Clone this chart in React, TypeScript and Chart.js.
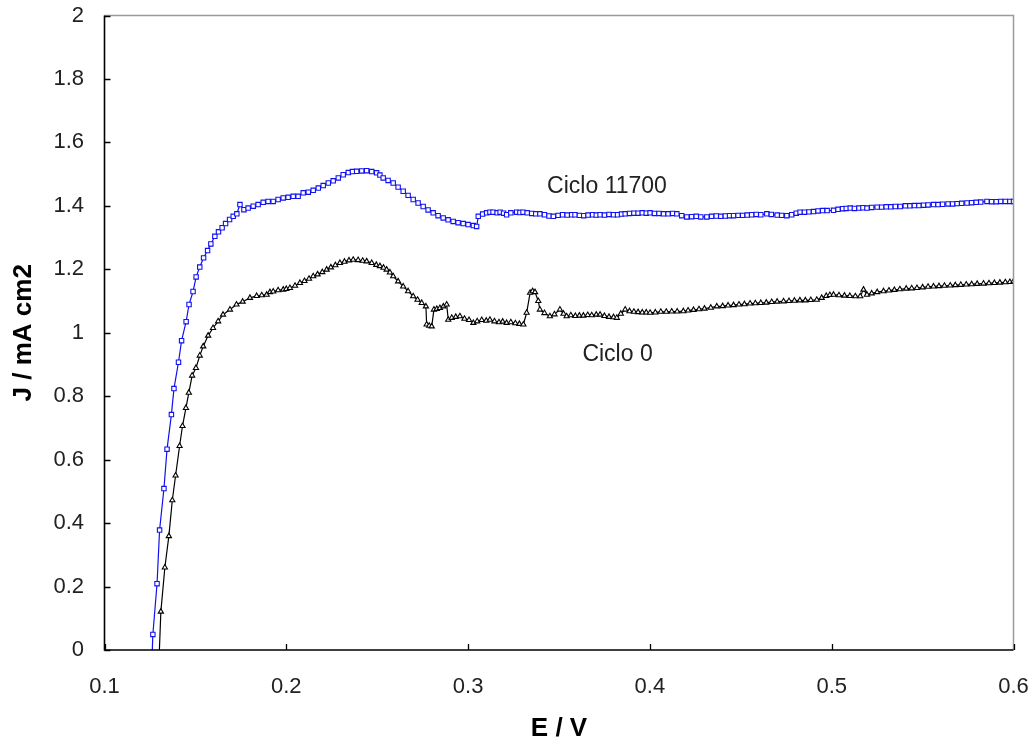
import React, { useEffect, useRef } from "react";
import { Chart, registerables } from "chart.js";

Chart.register(...registerables);

const FONT = '"Liberation Sans", Arial, Helvetica, sans-serif';

const xTicks = [0.1, 0.2, 0.3, 0.4, 0.5, 0.6];
const yTicks = [0, 0.2, 0.4, 0.6, 0.8, 1, 1.2, 1.4, 1.6, 1.8, 2];

const xTitle = "E / V";
const yTitle = "J / mA cm2";

// Ciclo 11700 (blue, squares)
const blueE = [
  0.1261, 0.1266, 0.1289, 0.1303, 0.1327, 0.1344, 0.1368, 0.1382, 0.1407, 0.1424, 0.1449, 0.1465,
  0.1487, 0.1504, 0.1524, 0.1545, 0.1567, 0.1585, 0.1607, 0.1627, 0.1647, 0.1666, 0.1688, 0.1708,
  0.1728, 0.1745, 0.1767, 0.179, 0.1818, 0.1845, 0.1873, 0.19, 0.1928, 0.1955, 0.1983, 0.201,
  0.2038, 0.2065, 0.2093, 0.2121, 0.2148, 0.2176, 0.2203, 0.2231, 0.2258, 0.2286, 0.2313, 0.2341,
  0.2364, 0.2387, 0.2415, 0.2442, 0.247, 0.2497, 0.2515, 0.2533, 0.256, 0.2588, 0.2615, 0.2643,
  0.267, 0.2698, 0.2725, 0.2753, 0.278, 0.2808, 0.2835, 0.2863, 0.289, 0.2918, 0.2945, 0.2973,
  0.3, 0.3029, 0.3047, 0.3056, 0.308, 0.3102, 0.312, 0.3137, 0.316, 0.3176, 0.3195, 0.3212,
  0.3235, 0.3267, 0.3285, 0.3302, 0.3325, 0.335, 0.3372, 0.3395, 0.342, 0.3445, 0.3469, 0.3495,
  0.352, 0.3545, 0.357, 0.3588, 0.3612, 0.3636, 0.366, 0.3685, 0.3705, 0.3726, 0.375, 0.3775,
  0.38, 0.3822, 0.3844, 0.3864, 0.3888, 0.3912, 0.3935, 0.3958, 0.398, 0.4001, 0.4025, 0.405,
  0.4075, 0.41, 0.4125, 0.4148, 0.4175, 0.4203, 0.423, 0.4255, 0.428, 0.4313, 0.434, 0.4365,
  0.439, 0.4415, 0.4438, 0.446, 0.4485, 0.451, 0.4535, 0.456, 0.4585, 0.461, 0.4643, 0.4668,
  0.47, 0.4725, 0.4753, 0.478, 0.4805, 0.4826, 0.485, 0.4875, 0.49, 0.4925, 0.495, 0.4975,
  0.501, 0.5035, 0.506, 0.508, 0.5102, 0.5125, 0.515, 0.5172, 0.5194, 0.522, 0.525, 0.5275,
  0.53, 0.5325, 0.535, 0.5377, 0.5405, 0.543, 0.5455, 0.548, 0.5505, 0.553, 0.556, 0.5585,
  0.561, 0.564, 0.5665, 0.569, 0.5715, 0.5744, 0.577, 0.5795, 0.582, 0.5854, 0.588, 0.5905,
  0.593, 0.5955, 0.598, 0.6,
];
const blueJ = [
  -0.03, 0.049, 0.209, 0.378, 0.509, 0.633, 0.742, 0.824, 0.907, 0.975, 1.035, 1.089,
  1.13, 1.176, 1.207, 1.236, 1.259, 1.28, 1.304, 1.318, 1.331, 1.344, 1.357, 1.367,
  1.375, 1.404, 1.388, 1.393, 1.399, 1.404, 1.411, 1.414, 1.414, 1.42, 1.425, 1.427,
  1.43, 1.43, 1.441, 1.443, 1.449, 1.456, 1.464, 1.472, 1.479, 1.488, 1.498, 1.505,
  1.508, 1.509, 1.51, 1.511, 1.508, 1.504, 1.497, 1.488, 1.48, 1.472, 1.459, 1.446,
  1.433, 1.42, 1.409, 1.398, 1.387, 1.378, 1.369, 1.362, 1.356, 1.351, 1.347, 1.344,
  1.341, 1.338, 1.335, 1.367, 1.374, 1.378, 1.38, 1.38, 1.378, 1.38, 1.377, 1.372,
  1.378, 1.38, 1.379, 1.38, 1.378, 1.376, 1.375, 1.375, 1.372, 1.368, 1.367, 1.37,
  1.372, 1.371, 1.372, 1.372, 1.37, 1.369, 1.371, 1.372, 1.371, 1.372, 1.371, 1.373,
  1.372, 1.372, 1.374, 1.375, 1.376, 1.377, 1.377, 1.378, 1.377, 1.378, 1.376, 1.376,
  1.375, 1.375, 1.376, 1.375, 1.369, 1.365, 1.366, 1.367, 1.365, 1.365, 1.367, 1.368,
  1.367, 1.368, 1.369, 1.369, 1.37, 1.37, 1.371, 1.372, 1.373, 1.372, 1.375, 1.373,
  1.371, 1.37, 1.369, 1.372, 1.377, 1.38, 1.38, 1.381, 1.382, 1.384, 1.385, 1.385,
  1.386, 1.389, 1.391, 1.392, 1.393, 1.392, 1.393, 1.394, 1.393, 1.395, 1.396, 1.396,
  1.397, 1.397, 1.398, 1.398, 1.4, 1.4, 1.401, 1.401, 1.402, 1.403, 1.404, 1.404,
  1.405, 1.406, 1.406, 1.407, 1.408, 1.409, 1.41, 1.411, 1.412, 1.414, 1.413, 1.413,
  1.414, 1.414, 1.414, 1.414,
];

// Ciclo 0 (black, triangles)
const blackE = [
  0.13, 0.131, 0.1332, 0.1354, 0.1373, 0.1391, 0.1413, 0.1429, 0.1448, 0.1464, 0.1482, 0.1503,
  0.1524, 0.1543, 0.157, 0.1597, 0.1625, 0.1652, 0.169, 0.1726, 0.176, 0.18, 0.1837, 0.1865,
  0.1892, 0.191, 0.1928, 0.1955, 0.1983, 0.2, 0.202, 0.2048, 0.2075, 0.21, 0.2125, 0.2148,
  0.2172, 0.2198, 0.2222, 0.2245, 0.227, 0.2295, 0.232, 0.2345, 0.2368, 0.2395, 0.242, 0.2442,
  0.247, 0.2495, 0.2515, 0.2535, 0.2552, 0.257, 0.2588, 0.2615, 0.2643, 0.267, 0.2698, 0.2722,
  0.2745, 0.2768, 0.2772, 0.2786, 0.28, 0.2812, 0.2828, 0.2845, 0.2864, 0.2882, 0.2891, 0.291,
  0.2932, 0.2955, 0.298, 0.3005, 0.3029, 0.305, 0.3075, 0.31, 0.312, 0.3145, 0.317, 0.319,
  0.3212, 0.3235, 0.326, 0.3282, 0.3304, 0.3322, 0.3341, 0.3355, 0.3368, 0.3386, 0.3395, 0.342,
  0.345, 0.3475, 0.3505, 0.3525, 0.3542, 0.3565, 0.359, 0.3612, 0.3634, 0.3658, 0.368, 0.3705,
  0.3726, 0.375, 0.3775, 0.38, 0.3818, 0.384, 0.3864, 0.3888, 0.3912, 0.3935, 0.3958, 0.398,
  0.4001, 0.403, 0.406, 0.409, 0.412, 0.415, 0.4184, 0.421, 0.424, 0.427, 0.43, 0.4335,
  0.4368, 0.44, 0.443, 0.446, 0.449, 0.452, 0.4551, 0.458, 0.461, 0.464, 0.467, 0.47,
  0.4735, 0.4765, 0.4795, 0.4825, 0.4855, 0.4885, 0.4918, 0.4945, 0.497, 0.499, 0.501, 0.504,
  0.507, 0.51, 0.513, 0.5157, 0.5175, 0.5194, 0.522, 0.525, 0.5285, 0.5315, 0.5345, 0.5375,
  0.541, 0.544, 0.5469, 0.55, 0.553, 0.556, 0.559, 0.562, 0.5652, 0.568, 0.571, 0.574,
  0.577, 0.58, 0.5835, 0.5865, 0.5895, 0.5925, 0.5955, 0.598, 0.6,
];
const blackJ = [
  -0.03, 0.121, 0.26, 0.359, 0.472, 0.55, 0.643, 0.706, 0.763, 0.811, 0.865, 0.889,
  0.928, 0.957, 0.991, 1.015, 1.036, 1.057, 1.073, 1.089, 1.098, 1.11, 1.116, 1.118,
  1.12, 1.128, 1.13, 1.134, 1.136, 1.138, 1.141, 1.148, 1.157, 1.163, 1.17, 1.178,
  1.184, 1.191, 1.199, 1.206, 1.213, 1.22, 1.224, 1.228, 1.23, 1.229, 1.227, 1.225,
  1.22, 1.214, 1.21, 1.205, 1.199, 1.19, 1.178, 1.162, 1.146, 1.131, 1.115, 1.104,
  1.094, 1.083, 1.026, 1.022, 1.02, 1.073, 1.075, 1.078, 1.083, 1.089, 1.041, 1.047,
  1.05, 1.052, 1.044, 1.04, 1.031, 1.036, 1.04, 1.038, 1.041, 1.036, 1.033, 1.035,
  1.031, 1.033, 1.03, 1.028, 1.026, 1.063, 1.126, 1.131, 1.128, 1.1, 1.073, 1.062,
  1.052, 1.058, 1.073, 1.06, 1.052, 1.055, 1.053, 1.054, 1.054, 1.056, 1.055, 1.057,
  1.057, 1.053, 1.05, 1.049, 1.047, 1.06, 1.073, 1.068, 1.066, 1.065, 1.064, 1.064,
  1.063, 1.064, 1.066, 1.066, 1.067, 1.067, 1.068, 1.07, 1.072, 1.074, 1.076, 1.079,
  1.083, 1.084, 1.086, 1.087, 1.089, 1.09, 1.092, 1.093, 1.094, 1.095, 1.097, 1.098,
  1.099, 1.1, 1.101, 1.102, 1.102, 1.103, 1.104, 1.11, 1.116, 1.119, 1.12, 1.118,
  1.117, 1.116, 1.115, 1.115, 1.136, 1.12, 1.124, 1.128, 1.131, 1.133, 1.135, 1.137,
  1.139, 1.14, 1.141, 1.143, 1.145, 1.146, 1.147, 1.148, 1.149, 1.15, 1.151, 1.152,
  1.153, 1.154, 1.155, 1.156, 1.157, 1.158, 1.159, 1.16, 1.162,
];

const noteTexts = ["Ciclo 11700", "Ciclo 0"];
const noteE = [0.3764, 0.3822];
const noteJ = [1.461, 0.932];

const toPoints = (xs: number[], ys: number[]) => xs.map((x, i) => ({ x, y: ys[i] }));

const zeroPad = (s: any) => {
  s.paddingLeft = 0;
  s.paddingRight = 0;
  s.paddingTop = 0;
  s.paddingBottom = 0;
};

const framePlugin = {
  id: "frameAndNotes",
  afterDatasetsDraw(chart: any) {
    const { ctx, chartArea: a, scales } = chart;
    const xs = scales.x;
    const ys = scales.y;
    ctx.save();
    // top & right border (grey)
    ctx.strokeStyle = "#9a9a9a";
    ctx.lineWidth = 1.5;
    ctx.beginPath();
    ctx.moveTo(a.left, a.top);
    ctx.lineTo(a.right, a.top);
    ctx.lineTo(a.right, a.bottom);
    ctx.stroke();
    // left & bottom axis lines (black)
    ctx.strokeStyle = "#000";
    ctx.lineWidth = 1.6;
    ctx.beginPath();
    ctx.moveTo(a.left, a.top);
    ctx.lineTo(a.left, a.bottom);
    ctx.lineTo(a.right, a.bottom);
    ctx.stroke();
    // inward tick marks
    ctx.lineWidth = 1.3;
    ctx.beginPath();
    xTicks.forEach((v) => {
      const px = Math.round(xs.getPixelForValue(v)) + 0.5;
      ctx.moveTo(px, a.bottom);
      ctx.lineTo(px, a.bottom - 6);
    });
    yTicks.forEach((v) => {
      const py = Math.round(ys.getPixelForValue(v)) + 0.5;
      ctx.moveTo(a.left, py);
      ctx.lineTo(a.left + 6, py);
    });
    ctx.stroke();
    // curve labels
    ctx.fillStyle = "#222";
    ctx.font = `23px ${FONT}`;
    ctx.textAlign = "center";
    ctx.textBaseline = "middle";
    noteTexts.forEach((t, i) => {
      ctx.fillText(t, xs.getPixelForValue(noteE[i]), ys.getPixelForValue(noteJ[i]));
    });
    ctx.restore();
  },
};

export default function App() {
  const ref = useRef<HTMLCanvasElement | null>(null);

  useEffect(() => {
    document.body.style.margin = "0";
    const canvas = ref.current;
    if (!canvas) return;
    const chart = new Chart(canvas, {
      type: "line",
      data: {
        datasets: [
          {
            label: "Ciclo 11700",
            data: toPoints(blueE, blueJ),
            borderColor: "#1010f0",
            borderWidth: 1.2,
            pointStyle: "rect",
            pointRadius: 3.1,
            pointBorderWidth: 1.1,
            pointBorderColor: "#1010f0",
            pointBackgroundColor: "#ffffff",
            tension: 0,
          },
          {
            label: "Ciclo 0",
            data: toPoints(blackE, blackJ),
            borderColor: "#000000",
            borderWidth: 1.2,
            pointStyle: "triangle",
            pointRadius: 3,
            pointBorderWidth: 1.1,
            pointBorderColor: "#000000",
            pointBackgroundColor: "#ffffff",
            tension: 0,
          },
        ],
      },
      options: {
        responsive: false,
        animation: false,
        devicePixelRatio: 1,
        layout: { padding: { top: 15.5, right: 22.5, left: 0, bottom: 0 } },
        plugins: {
          legend: { display: false },
          tooltip: { enabled: false },
        },
        scales: {
          x: {
            type: "linear",
            min: 0.1,
            max: 0.6,
            grid: { display: false, drawTicks: false },
            border: { display: false },
            afterBuildTicks: (s: any) => {
              s.ticks = xTicks.map((v) => ({ value: v }));
            },
            afterFit: (s: any) => {
              s.height = 94;
              zeroPad(s);
            },
            ticks: {
              autoSkip: false,
              maxRotation: 0,
              padding: 24,
              color: "#222",
              font: { family: FONT, size: 22 },
              callback: (v: any) => String(v),
            },
            title: {
              display: true,
              text: xTitle,
              color: "#000",
              padding: { top: 0, bottom: 0 },
              font: { family: FONT, size: 26, weight: "bold", lineHeight: 1.2 },
            },
          },
          y: {
            type: "linear",
            min: 0,
            max: 2,
            grid: { display: false, drawTicks: false },
            border: { display: false },
            afterBuildTicks: (s: any) => {
              s.ticks = yTicks.map((v) => ({ value: v }));
            },
            afterFit: (s: any) => {
              s.width = 104.5;
              zeroPad(s);
            },
            ticks: {
              autoSkip: false,
              padding: 20.5,
              color: "#222",
              font: { family: FONT, size: 22 },
              callback: (v: any) => String(v),
            },
            title: {
              display: true,
              text: yTitle,
              color: "#000",
              padding: { top: 8.5, bottom: 0 },
              font: { family: FONT, size: 26, weight: "bold", lineHeight: 1.2 },
            },
          },
        },
      },
      plugins: [framePlugin],
    });
    return () => chart.destroy();
  }, []);

  return (
    <div style={{ position: "absolute", left: 0, top: 0, width: 1036, height: 744, background: "#fff" }}>
      <canvas ref={ref} width={1036} height={744} style={{ display: "block" }} />
    </div>
  );
}
